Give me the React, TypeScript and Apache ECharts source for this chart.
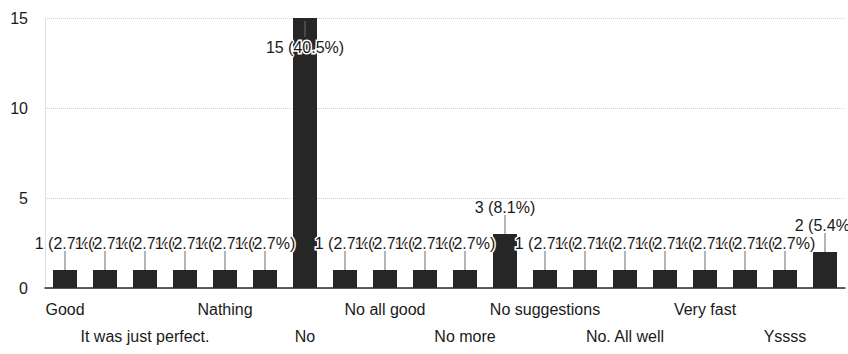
import React, { useEffect, useRef } from 'react';
import * as echarts from 'echarts';

const categories: string[] = [
  'Good', 'Great', 'It was just perfect.', 'Nah', 'Nathing', 'Nil', 'No',
  'No all fine', 'No all good', 'No complaints', 'No more', 'No problem',
  'No suggestions', 'No thanks', 'No. All well', 'Nothing', 'Very fast',
  'Well done', 'Yssss', 'nil',
];
const counts: number[] = [1, 1, 1, 1, 1, 1, 15, 1, 1, 1, 1, 3, 1, 1, 1, 1, 1, 1, 1, 2];
const yMin = 0;
const yMax = 15;
const yInterval = 5;

const FONT = '"Liberation Sans", Arial, sans-serif';

export default function App() {
  const ref = useRef<HTMLDivElement>(null);

  useEffect(() => {
    if (!ref.current) return;
    const chart = echarts.init(ref.current, null, { renderer: 'svg' });
    const total = counts.reduce((a, b) => a + b, 0);
    const labelText = (v: number) => `${v} (${((v / total) * 100).toFixed(1)}%)`;

    const baseLabel = {
      color: '#1a1a1a',
      fontFamily: FONT,
      fontSize: 16,
      lineHeight: 27,
      hideOverlap: false,
    };

    chart.setOption({
      animation: false,
      backgroundColor: '#ffffff',
      grid: { left: 45, right: 3, top: 18, bottom: 66 },
      xAxis: [
        {
          type: 'category',
          data: categories,
          position: 'bottom',
          axisLine: { show: true, lineStyle: { color: '#2a2a2a', width: 1.5 } },
          axisTick: { show: false },
          axisLabel: {
            ...baseLabel,
            interval: (index: number) => index % 4 === 0,
            margin: 8,
          },
        },
        {
          type: 'category',
          data: categories,
          position: 'bottom',
          axisLine: { show: false },
          axisTick: { show: false },
          splitLine: { show: false },
          axisLabel: {
            ...baseLabel,
            interval: (index: number) => index % 4 === 2,
            margin: 35,
          },
        },
      ],
      yAxis: {
        type: 'value',
        min: yMin,
        max: yMax,
        interval: yInterval,
        axisLine: { show: true, lineStyle: { color: '#d8d8d8', type: 'dotted' } },
        axisTick: { show: false },
        axisLabel: { color: '#1a1a1a', fontFamily: FONT, fontSize: 16, margin: 17, showMinLabel: true },
        splitLine: { show: true, lineStyle: { color: '#cfcfcf', type: 'dotted', width: 1 } },
      },
      series: [
        {
          type: 'bar',
          xAxisIndex: 0,
          data: counts,
          barWidth: 24,
          itemStyle: { color: '#262626' },
          z: 2,
        },
        {
          type: 'custom',
          xAxisIndex: 0,
          data: counts.map((v, i) => [i, v]),
          encode: { x: 0, y: 1 },
          z: 5,
          renderItem: (params: any, api: any) => {
            const idx = api.value(0);
            const v = api.value(1);
            const pt = api.coord([idx, v]);
            const x = pt[0];
            const yTop = pt[1];
            const plotTop = params.coordSys.y;
            let labelY = yTop - 27;
            let y1 = yTop;
            let y2 = labelY + 8;
            if (labelY - 8 < plotTop) {
              labelY = yTop + 29;
              y1 = yTop + 3;
              y2 = labelY - 10;
            }
            return {
              type: 'group',
              children: [
                {
                  type: 'line',
                  shape: { x1: x, y1, x2: x, y2 },
                  style: { stroke: '#6a6a6a', lineWidth: 1 },
                },
                {
                  type: 'text',
                  x,
                  y: labelY,
                  style: {
                    text: labelText(v),
                    align: 'center',
                    verticalAlign: 'middle',
                    font: `16px ${FONT}`,
                    fill: '#1a1a1a',
                    stroke: '#ffffff',
                    lineWidth: 3,
                  },
                },
              ],
            };
          },
        },
      ],
    });

    return () => chart.dispose();
  }, []);

  return (
    <div
      ref={ref}
      style={{ position: 'fixed', left: 0, top: 0, width: 848, height: 354 }}
    />
  );
}
